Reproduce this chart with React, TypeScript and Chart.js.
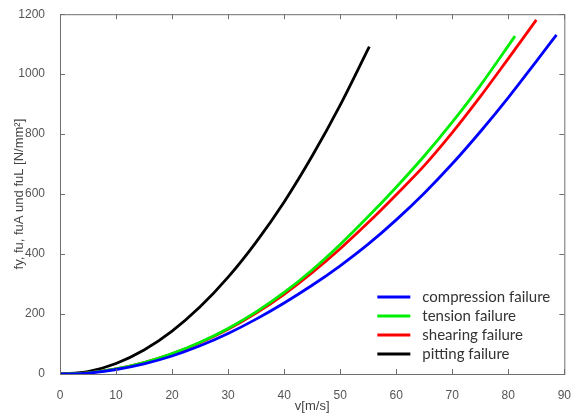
import React, { useEffect, useRef } from "react";
import { Chart, registerables } from "chart.js";

Chart.register(...registerables);

// Speed (m/s) and stress (N/mm²) for each failure mode
const compressionV = [0, 5, 10, 15, 20, 25, 30, 35, 40, 45, 50, 55, 60, 65, 70, 75, 80, 85, 88.6];
const compressionF = [0, 3, 15, 34, 60, 94, 135, 183, 237, 296, 361, 433, 514, 603, 701, 808, 922, 1043, 1131];

const tensionV = [0, 5, 10, 15, 20, 25, 30, 35, 40, 45, 50, 55, 60, 65, 70, 75, 81.2];
const tensionF = [0, 4, 17, 38, 68, 106, 152, 207, 272, 347, 432, 525, 623, 727, 840, 962, 1127];

const shearingV = [0, 5, 10, 15, 20, 25, 30, 35, 40, 45, 50, 55, 60, 65, 70, 75, 80, 85];
const shearingF = [0, 4, 17, 38, 67, 104, 149, 203, 266, 338, 418, 505, 598, 695, 805, 925, 1052, 1181];

const pittingV = [0, 5, 10, 15, 20, 25, 30, 35, 40, 45, 50, 55.2];
const pittingF = [0, 8, 35, 80, 143, 224, 323, 440, 574, 727, 897, 1092];

const seriesLabels = ["compression failure", "tension failure", "shearing failure", "pitting failure"];
const seriesColors = ["#0000ff", "#00ee00", "#ff0000", "#000000"];

const xTicks = [0, 10, 20, 30, 40, 50, 60, 70, 80, 90];
const yTicks = [0, 200, 400, 600, 800, 1000, 1200];

const toPoints = (xs: number[], ys: number[]) => xs.map((x, i) => ({ x, y: ys[i] }));

// Box around the plot with inward ticks on all four sides, plus the legend
const framePlugin = {
  id: "frameAndLegend",
  afterDraw(chart: any) {
    const { ctx, chartArea } = chart;
    const xs = chart.scales.x;
    const ys = chart.scales.y;
    const { left, right, top, bottom } = chartArea;
    ctx.save();
    ctx.strokeStyle = "#6e6e6e";
    ctx.lineWidth = 1;
    ctx.strokeRect(left + 0.5, top + 0.5, right - left, bottom - top);
    const t = 5;
    ctx.beginPath();
    xTicks.forEach((v) => {
      const px = Math.round(xs.getPixelForValue(v)) + 0.5;
      ctx.moveTo(px, bottom);
      ctx.lineTo(px, bottom - t);
      ctx.moveTo(px, top);
      ctx.lineTo(px, top + t);
    });
    yTicks.forEach((v) => {
      const py = Math.round(ys.getPixelForValue(v)) + 0.5;
      ctx.moveTo(left, py);
      ctx.lineTo(left + t, py);
      ctx.moveTo(right, py);
      ctx.lineTo(right - t, py);
    });
    ctx.stroke();

    // legend in the lower right of the plot
    const lx0 = right - 187;
    const lx1 = right - 154;
    const tx = right - 142;
    const rowY = [bottom - 77, bottom - 58, bottom - 39, bottom - 20];
    ctx.font = "15px Lato";
    ctx.textBaseline = "middle";
    ctx.textAlign = "left";
    chart.data.datasets.forEach((ds: any, i: number) => {
      ctx.strokeStyle = ds.borderColor;
      ctx.lineWidth = 3;
      ctx.beginPath();
      ctx.moveTo(lx0, rowY[i]);
      ctx.lineTo(lx1, rowY[i]);
      ctx.stroke();
      ctx.fillStyle = "#333333";
      ctx.fillText(ds.label, tx, rowY[i]);
    });
    ctx.restore();
  },
};

export default function App() {
  const canvasRef = useRef<HTMLCanvasElement | null>(null);

  useEffect(() => {
    document.body.style.margin = "0";
    const canvas = canvasRef.current;
    if (!canvas) return;
    const series = [
      toPoints(compressionV, compressionF),
      toPoints(tensionV, tensionF),
      toPoints(shearingV, shearingF),
      toPoints(pittingV, pittingF),
    ];
    const chart = new Chart(canvas, {
      type: "line",
      data: {
        datasets: series.map((data, i) => ({
          label: seriesLabels[i],
          data,
          borderColor: seriesColors[i],
          backgroundColor: seriesColors[i],
          borderWidth: 2.8,
          pointRadius: 0,
          fill: false,
          cubicInterpolationMode: "monotone" as const,
        })),
      },
      options: {
        responsive: false,
        animation: false,
        devicePixelRatio: 1,
        layout: { padding: { left: 0, top: 10, right: 10, bottom: 0 } },
        plugins: {
          legend: { display: false },
          tooltip: { enabled: false },
        },
        scales: {
          x: {
            type: "linear",
            min: 0,
            max: 90,
            afterBuildTicks: (s: any) => {
              s.ticks = xTicks.map((value) => ({ value }));
            },
            afterFit: (s: any) => {
              s.height = 40;
            },
            grid: { display: false },
            border: { display: false },
            ticks: {
              color: "#555555",
              font: { family: "Liberation Sans", size: 12 },
              padding: 6,
              maxRotation: 0,
              callback: (v: any) => String(v),
            },
            title: {
              display: true,
              text: "v[m/s]",
              color: "#444444",
              font: { family: "Liberation Sans", size: 13 },
              padding: { top: 0, bottom: 0 },
            },
          },
          y: {
            type: "linear",
            min: 0,
            max: 1200,
            afterBuildTicks: (s: any) => {
              s.ticks = yTicks.map((value) => ({ value }));
            },
            afterFit: (s: any) => {
              s.width = 60;
            },
            grid: { display: false },
            border: { display: false },
            ticks: {
              color: "#555555",
              font: { family: "Liberation Sans", size: 12 },
              padding: 7,
              callback: (v: any) => String(v),
            },
            title: {
              display: true,
              text: "fy, fu, fuA und fuL [N/mm²]",
              color: "#444444",
              font: { family: "Liberation Sans", size: 13 },
              padding: { top: 12, bottom: 0 },
            },
          },
        },
      },
      plugins: [framePlugin],
    });
    return () => chart.destroy();
  }, []);

  return (
    <div style={{ width: 577, height: 414, background: "#ffffff" }}>
      <canvas ref={canvasRef} width={577} height={414} style={{ display: "block" }} />
    </div>
  );
}
